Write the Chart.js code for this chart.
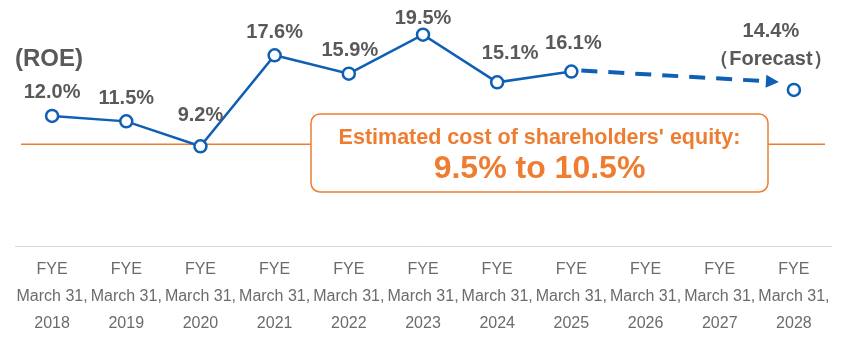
<!DOCTYPE html>
<html>
<head>
<meta charset="utf-8">
<script src="https://cdn.jsdelivr.net/npm/chart.js@4.4.1/dist/chart.umd.min.js"></script>
<style>
  html, body { margin: 0; padding: 0; background: #fff; }
  #wrap { width: 844px; height: 340px; position: relative; }
</style>
</head>
<body>
<div id="wrap"><canvas id="roeChart"></canvas></div>
<script>
const years = ['2018', '2019', '2020', '2021', '2022', '2023', '2024', '2025', '2026', '2027', '2028'];
const roeActual = [12.0, 11.5, 9.2, 17.6, 15.9, 19.5, 15.1, 16.1, null, null, null];
const roeForecast = [null, null, null, null, null, null, null, 16.1, null, null, 14.4];
const costOfEquityLine = 9.4;
const costOfEquityText = ['Estimated cost of shareholders\' equity:', '9.5% to 10.5%'];

// label nudges (px) so the value labels sit where the original has them
const labelDx = [0, 0, 0, 0, 1, 0, 13, 2];
const labelDy = [23, 23, 31, 23, 23, 16, 29, 28];

const BLUE = '#0f5fb5';
const ORANGE = '#ee7d31';
const GREY = '#595959';

const tickLabels = years.map(y => ['FYE', 'March 31,', y]);

const overlayPlugin = {
  id: 'overlay',
  beforeDatasetsDraw(chart) {
    const { ctx, chartArea, scales } = chart;
    const y = scales.y.getPixelForValue(costOfEquityLine);
    ctx.save();
    // orange cost-of-equity line
    ctx.strokeStyle = ORANGE;
    ctx.lineWidth = 1.5;
    ctx.beginPath();
    ctx.moveTo(chartArea.left + 6, y);
    ctx.lineTo(chartArea.right - 6, y);
    ctx.stroke();

    // callout box
    const bx = 311, by = 114, bw = 457, bh = 78;
    ctx.fillStyle = '#fff';
    ctx.lineWidth = 1.5;
    ctx.beginPath();
    ctx.roundRect(bx, by, bw, bh, 9);
    ctx.fill();
    ctx.stroke();
    ctx.fillStyle = ORANGE;
    ctx.textAlign = 'center';
    ctx.textBaseline = 'middle';
    ctx.font = 'bold 21.5px "Liberation Sans", Arial, sans-serif';
    ctx.fillText(costOfEquityText[0], bx + bw / 2, by + 24);
    ctx.font = 'bold 32px "Liberation Sans", Arial, sans-serif';
    ctx.fillText(costOfEquityText[1], bx + bw / 2, by + 55);
    ctx.restore();
  },
  afterDatasetsDraw(chart) {
    const { ctx } = chart;
    const actual = chart.getDatasetMeta(0).data;
    const fc = chart.getDatasetMeta(1).data;
    ctx.save();

    // dashed forecast arrow from last actual to forecast point
    const i0 = roeForecast.findIndex(v => v !== null);
    const i1 = roeForecast.length - 1;
    const p0 = fc[i0], p1 = fc[i1];
    const sx = p0.x + 10, sy = p0.y - 1;
    const ex = p1.x - 15, ey = p1.y - 8;
    const ang = Math.atan2(ey - sy, ex - sx);
    const head = 13;
    ctx.strokeStyle = BLUE;
    ctx.fillStyle = BLUE;
    ctx.lineWidth = 4;
    ctx.setLineDash([16, 11]);
    ctx.beginPath();
    ctx.moveTo(sx, sy);
    ctx.lineTo(ex - head * Math.cos(ang), ey - head * Math.sin(ang));
    ctx.stroke();
    ctx.setLineDash([]);
    ctx.beginPath();
    ctx.moveTo(ex, ey);
    ctx.lineTo(ex - head * Math.cos(ang) + 6.5 * Math.sin(ang), ey - head * Math.sin(ang) - 6.5 * Math.cos(ang));
    ctx.lineTo(ex - head * Math.cos(ang) - 6.5 * Math.sin(ang), ey - head * Math.sin(ang) + 6.5 * Math.cos(ang));
    ctx.closePath();
    ctx.fill();

    // value labels
    ctx.fillStyle = GREY;
    ctx.textAlign = 'center';
    ctx.textBaseline = 'middle';
    ctx.font = 'bold 20px "Liberation Sans", Arial, sans-serif';
    roeActual.forEach((v, i) => {
      if (v === null) return;
      const pt = actual[i];
      ctx.fillText(v.toFixed(1) + '%', pt.x + labelDx[i], pt.y - labelDy[i]);
    });
    ctx.fillText(roeForecast[i1].toFixed(1) + '%', p1.x - 23, p1.y - 58);
    ctx.fillText('（Forecast）', p1.x - 23, p1.y - 30);

    // axis title
    ctx.textAlign = 'left';
    ctx.font = 'bold 24px "Liberation Sans", Arial, sans-serif';
    ctx.fillText('(ROE)', 15, 59);
    ctx.restore();
  }
};

new Chart(document.getElementById('roeChart'), {
  type: 'line',
  data: {
    labels: tickLabels,
    datasets: [
      {
        label: 'ROE',
        data: roeActual,
        borderColor: BLUE,
        borderWidth: 2.5,
        pointRadius: 6,
        pointBorderWidth: 2.5,
        pointBackgroundColor: '#fff',
        pointBorderColor: BLUE,
        tension: 0,
        clip: false
      },
      {
        label: 'Forecast',
        data: roeForecast,
        showLine: false,
        pointRadius: roeForecast.map((v, i) => (i === roeForecast.length - 1 ? 6 : 0)),
        pointBorderWidth: 2.5,
        pointBackgroundColor: '#fff',
        pointBorderColor: BLUE,
        clip: false
      }
    ]
  },
  options: {
    responsive: true,
    maintainAspectRatio: false,
    animation: false,
    layout: { autoPadding: false, padding: { left: 15, right: 13, top: 0, bottom: 0 } },
    plugins: {
      legend: { display: false },
      tooltip: { enabled: false }
    },
    scales: {
      x: {
        offset: true,
        grid: { display: false, drawTicks: false },
        border: { display: true, color: '#d9d9d9', width: 1 },
        ticks: {
          color: '#6b6b6b',
          padding: 10,
          autoSkip: false,
          maxRotation: 0,
          font: { family: '"Liberation Sans", Arial, sans-serif', size: 16, lineHeight: 1.7 }
        },
        afterFit(scale) { scale.height = 94; }
      },
      y: {
        display: false,
        min: 0,
        max: 22.7
      }
    }
  },
  plugins: [overlayPlugin]
});
</script>
</body>
</html>
